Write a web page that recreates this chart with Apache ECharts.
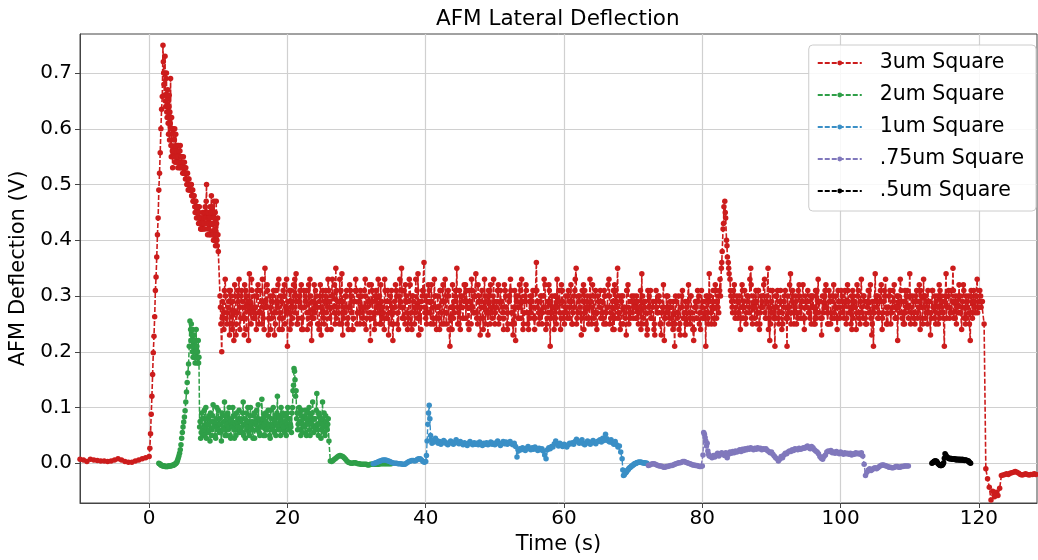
<!DOCTYPE html>
<html>
<head>
<meta charset="utf-8">
<script src="https://cdn.jsdelivr.net/npm/echarts@6/dist/echarts.min.js"></script>
<style>
html,body{margin:0;padding:0;background:#fff;}
#chart{width:1038px;height:560px;}
</style>
</head>
<body>
<div id="chart"></div>
<script>
// ---------------- DATA ----------------
const seriesNames = ['3um Square', '2um Square', '1um Square', '.75um Square', '.5um Square'];
const xTickLabels = [0, 20, 40, 60, 80, 100, 120];
const yTickLabels = [0.0, 0.1, 0.2, 0.3, 0.4, 0.5, 0.6, 0.7];

// 3um Square (red): segments given as start time, sample step, values
const redBaselineStart = -10, redBaselineStep = 0.5;
const redBaseline = [.007,.006,.003,.007,.006,.005,.004,.004,.003,.004,.006,.008,.006,.003,.002,.002,.004,.006,.008,.010];
const redRiseStart = 0.0, redRiseStep = 0.1;
const redRise = [.012,.027,.053,.088,.12,.159,.198,.228,.263,.31,.334,.37,.41,.44,.49,.52,.557,.60,.635,.658];
const redPeakStart = 2.0, redPeakStep = 0.1;
const redPeak = [.75,.70,.66,.73,.64,.70,.62,.67,.59,.66,
  .63,.69,.55,.60,.53,.59,.56,.60,.55,.57,
  .54,.57,.55,.56,.53,.57,.54,.55,.53,.54,
  .53,.54,.52,.53,.51,.52,.50,.51,.49,.50,
  .49,.50,.48,.49,.47,.48,.46,.47,.46,.45,
  .46,.44,.45,.43,.44,.42,.43,.44,.42,.45,
  .43,.46,.44,.50,.45,.42,.44,.41,.46,.43,
  .48,.41,.45,.40,.47,.42,.39,.47,.40,.44,
  .38];
const redPeakBStart = 2.05, redPeakBStep = 0.1;
const redPeakB = [.72,.68,.70,.65,.69,.63,.66,.61,.64,.58,
  .61,.57,.62,.56,.60,.55,.58,.54,.59,.55,
  .56,.53,.57,.54,.56,.53,.55,.54,.52,.55,
  .52,.53,.51,.52,.50,.52,.49,.51,.50,.49,
  .50,.48,.49,.47,.48,.47,.45,.47,.44,.46,
  .45,.43,.46,.44,.42,.44,.42,.45,.43,.44,
  .42,.45,.47,.43,.41,.45,.43,.44,.41,.45,
  .43,.46,.41,.44,.40,.45,.41,.43,.39,.41];
const redPlateauStart = 10.25, redPlateauStep = 0.25;
const redPlateau = [
  .30,.20,.27,.33,.25,.29,.31,.24,.22,.30,.27,.33,.26,.29,.23,.31,.28,.34,.25,.27,
  .30,.24,.32,.27,.29,.26,.35,.28,.23,.30,.26,.31,.25,.29,.33,.27,.24,.30,.28,.21,
  .27,.31,.26,.30,.34,.25,.29,.32,.24,.28,.31,.26,.33,.22,.29,.27,.30,.25,.32,.28,
  .26,.30,.24,.31,.28,.33,.27,.35,.29,.25,.31,.23,.28,.30,.26,.32,.27,.24,.29,.31,
  .27,.25,.30,.28,.33,.26,.29,.22,.31,.27,.25,.30,.28,.32,.26,.24,.29,.31,.27,.25,
  .22,.29,.31,.27,.33,.35,.28,.25,.30,.26,.32,.24,.29,.27,.31,.23,.28,.30,.36,.26,
  .29,.31,.25,.28,.33,.26,.30,.24,.27,.32,.29,.25,.31,.21,.28,.26,.30,.35,.27,.24,
  .30,.26,.32,.28,.24,.29,.31,.27,.34,.25,.30,.28,.26,.33,.29,.23,.31,.27,.30,.25,
  .28,.32,.26,.29,.24,.31,.27,.30,.33,.25,.28,.22,.30,.26,.31,.29,.27,.32,.25,.29,
  .27,.31,.24,.36,.29,.26,.30,.28,.32,.25,.27,.21,.30,.28,.26,.33,.29,.24,.31,.27,
  .30,.26,.29,.32,.25,.28,.35,.27,.30,.23,.29,.31,.26,.28,.33,.25,.30,.27,.24,.29,
  .31,.27,.25,.30,.28,.33,.26,.29,.24,.31,.35,.27,.25,.30,.28,.23,.32,.27,.29,.26,
  .28,.30,.25,.27,.34,.26,.29,.23,.28,.31,.26,.24,.29,.27,.30,.25,.28,.22,.27,.30,
  .26,.28,.24,.21,.29,.27,.25,.30,.26,.23,.28,.32,.25,.27,.22,.29,.26,.30,.24,.28,
  .26,.21,.30,.34,.27,.29,.25,.31,.28,.31,.35,.42,.47,.40,.36,.33,.29,.31,.26,.30,
  .27,.24,.32,.29,.26,.30,.28,.35,.25,.29,.31,.27,.24,.30,.28,.33,.26,.35,.22,.29,
  .27,.21,.30,.26,.29,.24,.28,.31,.21,.27,.34,.29,.25,.30,.27,.32,.26,.29,.24,.28,
  .31,.27,.25,.30,.28,.26,.33,.29,.23,.27,.31,.28,.25,.30,.26,.32,.28,.24,.29,.27,
  .30,.26,.29,.32,.27,.25,.31,.28,.24,.30,.27,.33,.26,.29,.25,.31,.27,.23,.21,.34,
  .28,.26,.31,.24,.29,.33,.27,.30,.25,.28,.32,.26,.22,.29,.31,.27,.25,.30,.28,.34,
  .27,.29,.25,.31,.28,.24,.30,.33,.26,.29,.27,.23,.31,.28,.25,.30,.32,.27,.29,.21,
  .34,.28,.26,.31,.35,.29,.25,.30,.27,.24,.32,.28,.26,.30,.22,.29,.31,.27,.33,.28,.30,.29];
const redPlateauBStart = 10.375, redPlateauBStep = 0.25;
const redPlateauB = [
  .25,.29,.31,.26,.28,.23,.30,.27,.32,.25,.29,.24,.31,.28,.26,.30,.22,.29,.31,.26,
  .28,.31,.25,.27,.33,.24,.29,.31,.26,.28,.30,.23,.27,.32,.26,.29,.31,.25,.33,.27,
  .24,.29,.32,.27,.25,.30,.28,.26,.31,.29,.24,.27,.30,.26,.32,.28,.25,.29,.23,.31,
  .29,.27,.33,.26,.30,.28,.25,.31,.27,.29,.34,.26,.30,.25,.28,.31,.24,.29,.33,.27,
  .30,.28,.26,.31,.24,.29,.27,.32,.26,.30,.28,.33,.25,.29,.27,.31,.26,.23,.30,.28,
  .27,.32,.25,.30,.28,.26,.31,.29,.24,.33,.27,.30,.25,.28,.34,.26,.29,.31,.27,.25,
  .32,.27,.29,.25,.30,.28,.26,.31,.29,.25,.27,.30,.24,.28,.32,.27,.29,.25,.31,.28,
  .26,.29,.31,.25,.28,.33,.27,.30,.26,.29,.23,.31,.28,.25,.30,.27,.32,.26,.29,.28,
  .31,.26,.29,.27,.32,.28,.25,.30,.27,.23,.31,.29,.26,.28,.33,.25,.30,.27,.24,.30,
  .29,.26,.31,.28,.25,.30,.27,.33,.24,.29,.31,.26,.28,.30,.25,.29,.27,.32,.26,.28,
  .27,.31,.28,.25,.30,.33,.26,.29,.27,.31,.24,.28,.30,.26,.29,.32,.27,.25,.30,.28,
  .29,.26,.30,.27,.32,.25,.28,.31,.26,.29,.27,.24,.30,.28,.26,.31,.25,.29,.27,.30,
  .26,.29,.27,.24,.30,.28,.25,.31,.27,.26,.29,.23,.28,.30,.25,.27,.32,.26,.28,.25,
  .29,.25,.27,.30,.26,.24,.28,.31,.27,.25,.29,.26,.30,.24,.28,.26,.29,.27,.31,.26,
  .29,.27,.25,.30,.28,.26,.32,.29,.27,.30,.38,.46,.44,.37,.34,.30,.27,.32,.28,.26,
  .30,.28,.26,.31,.27,.29,.33,.26,.30,.28,.25,.31,.27,.29,.32,.26,.30,.28,.25,.31,
  .28,.26,.31,.27,.29,.25,.30,.28,.26,.32,.27,.30,.28,.25,.31,.27,.29,.26,.30,.28,
  .27,.30,.28,.25,.31,.27,.29,.26,.30,.28,.32,.25,.29,.27,.30,.26,.28,.31,.26,.29,
  .28,.31,.26,.29,.27,.24,.30,.28,.32,.26,.29,.27,.30,.25,.28,.31,.26,.29,.27,.30,
  .26,.29,.32,.27,.30,.25,.28,.31,.27,.29,.26,.30,.28,.33,.26,.29,.27,.31,.28,.25,
  .30,.27,.29,.26,.32,.28,.25,.30,.27,.31,.29,.26,.28,.30,.27,.25,.31,.28,.26,.30,
  .28,.31,.27,.29,.26,.30,.28,.32,.27,.29,.26,.30,.28,.25,.31,.27,.29,.30,.28,.31,.29];
const redPlateauCStart = 10.3125, redPlateauCStep = 0.25;
const redPlateauC = [
  .28,.26,.24,.30,.27,.31,.25,.29,.27,.23,.31,.28,.30,.26,.32,.24,.29,.27,.33,.28,
  .26,.30,.27,.31,.25,.29,.28,.32,.26,.24,.29,.27,.31,.28,.24,.30,.26,.32,.27,.29,
  .31,.25,.28,.33,.29,.26,.31,.24,.28,.30,.27,.32,.25,.29,.26,.31,.28,.24,.30,.27,
  .25,.31,.28,.29,.24,.30,.32,.26,.28,.33,.25,.29,.27,.31,.24,.28,.30,.26,.31,.25,
  .29,.31,.27,.25,.30,.28,.32,.26,.29,.24,.31,.27,.30,.25,.28,.33,.26,.29,.27,.31,
  .25,.28,.30,.24,.29,.31,.26,.32,.27,.29,.25,.30,.28,.33,.26,.29,.24,.31,.28,.30,
  .27,.29,.32,.26,.30,.24,.28,.31,.25,.29,.33,.27,.30,.26,.24,.29,.31,.28,.25,.30,
  .28,.32,.26,.29,.31,.25,.28,.30,.27,.32,.26,.29,.24,.30,.27,.31,.25,.28,.33,.27,
  .29,.25,.31,.28,.26,.30,.24,.29,.31,.27,.25,.30,.28,.32,.26,.24,.29,.31,.27,.26,
  .30,.28,.26,.31,.27,.29,.25,.30,.28,.26,.32,.29,.27,.24,.30,.28,.31,.26,.29,.25,
  .28,.30,.26,.29,.27,.31,.25,.30,.28,.26,.32,.27,.29,.25,.30,.28,.26,.31,.27,.29,
  .26,.29,.31,.25,.28,.30,.27,.24,.32,.28,.26,.30,.29,.25,.27,.31,.28,.26,.30,.28,
  .29,.26,.28,.31,.25,.29,.27,.24,.30,.26,.28,.25,.31,.27,.29,.23,.28,.26,.30,.27,
  .28,.26,.29,.25,.27,.30,.23,.28,.26,.29,.25,.27,.30,.26,.24,.28,.31,.25,.27,.29,
  .27,.30,.26,.29,.25,.31,.28,.26,.30,.33,.36,.43,.45,.39,.35,.31,.28,.30,.27,.29,
  .29,.26,.31,.28,.25,.30,.27,.32,.28,.26,.29,.31,.25,.28,.30,.27,.29,.24,.31,.27,
  .26,.30,.28,.25,.31,.27,.29,.26,.30,.28,.25,.31,.27,.29,.26,.30,.28,.32,.26,.29,
  .29,.26,.30,.28,.25,.31,.27,.29,.26,.30,.28,.27,.31,.25,.29,.27,.30,.26,.28,.31,
  .27,.29,.25,.31,.28,.30,.26,.29,.27,.31,.25,.28,.30,.26,.29,.27,.32,.25,.28,.29,
  .30,.27,.29,.26,.31,.28,.25,.30,.27,.31,.28,.26,.30,.27,.29,.25,.31,.28,.26,.30,
  .28,.26,.30,.27,.29,.31,.26,.28,.30,.25,.29,.27,.31,.26,.29,.28,.26,.30,.27,.29,
  .26,.30,.28,.27,.31,.26,.29,.27,.30,.28,.31,.25,.29,.27,.30,.26,.28,.30,.27,.29,.28];
const redTailStart = 120.75, redTailStep = 0.25;
const redTail = [.25,-.01,-.028,-.043,-.066,-.05,-.06,-.052,-.058,-.045,-.022,-.021,-.02,-.019,-.02,-.018,
  -.017,-.016,-.015,-.016,-.018,-.02,-.021,-.02,-.019,-.02,-.021,-.02,-.02,-.019,-.02,-.02];

// 2um Square (green)
const greenRiseStart = 1.4, greenRiseStep = 0.1;
const greenRise = [.000,-.001,-.002,-.003,-.004,-.004,-.005,-.005,-.005,-.006,-.006,-.006,-.006,-.006,-.005,-.005,
  -.005,-.005,-.004,-.004,-.004,-.003,-.003,-.002,-.001,.000,
  .002,.005,.009,.013,.018,.024,.033,.045,.055,.065,.074,.083,.094,.11,.128,.145,.162,.178,.21,.255];
const greenClusterStart = 6.0, greenClusterStep = 0.05;
const greenCluster = [.24,.22,.25,.21,.23,.20,.24,.19,.22,.20,.23,.19,.21,.18,.22,.20,.24,.19,.21,.18,.20,.19,.22,.18,.19];
const greenNoiseStart = 7.3, greenNoiseStep = 0.15;
const greenNoise = [
  .065,.045,.09,.06,.08,.05,.10,.07,.055,.085,.04,.075,.06,.105,.07,.05,.08,.065,.095,.055,
  .07,.04,.085,.06,.11,.075,.05,.09,.065,.08,.045,.07,.10,.06,.085,.05,.075,.065,.095,.06,
  .08,.055,.11,.07,.045,.09,.065,.075,.05,.10,.07,.06,.085,.045,.075,.095,.06,.08,.05,.07,
  .115,.065,.085,.05,.075,.06,.095,.07,.045,.08,.065,.10,.055,.085,.07,.12,.06,.08,.05,.075,
  .09,.065,.055,.085,.07,.10,.06,.08,.065,.09,.13,.17,.15,.13,.09,.07,.10,.06,.085,.055,
  .08,.065,.095,.05,.075,.09,.06,.085,.07,.11,.055,.08,.065,.125,.06,.09,.07,.045,.08,.065,
  .09,.05,.075,.06,.08];
const greenNoiseBStart = 7.375, greenNoiseBStep = 0.15;
const greenNoiseB = [
  .075,.055,.08,.05,.095,.065,.045,.08,.07,.06,.09,.05,.085,.065,.075,.045,.10,.06,.07,.08,
  .055,.09,.065,.075,.05,.085,.07,.06,.10,.05,.075,.065,.085,.045,.07,.09,.06,.08,.055,.075,
  .065,.09,.05,.08,.07,.06,.10,.055,.085,.065,.075,.045,.09,.07,.06,.08,.105,.055,.075,.065,
  .08,.05,.07,.09,.06,.085,.065,.05,.095,.07,.06,.08,.075,.05,.09,.065,.085,.06,.10,.07,
  .06,.085,.075,.05,.09,.065,.08,.07,.055,.10,.14,.165,.12,.08,.06,.09,.075,.05,.095,.07,
  .065,.085,.055,.08,.07,.10,.05,.075,.09,.065,.08,.06,.095,.07,.05,.085,.075,.06,.11,.07,
  .055,.085,.065,.07];
const greenTailStart = 26.0, greenTailStep = 0.2;
const greenTail = [.04,.004,.003,.005,.007,.009,.011,.013,.014,.013,.012,.010,.007,.004,.002,.001,.000,.000,.001,.001,
  .000,-.001,-.001,-.002,-.002,-.002,-.002,-.002,-.003,-.003,-.002,-.002,-.002,-.002,-.002,-.002,-.002,-.001,-.001,-.001,
  -.001,-.001,-.001,-.001,-.001,-.001];

// 1um Square (blue)
const blueStartT = 32.4, blueStartStep = 0.2;
const blueStart = [-.001,.000,.001,.002,.003,.004,.005,.006,.006,.006,.005,.004,.003,.002,.001,.000,.000,.000,-.001,-.001,
  -.001,-.002,-.002,-.002,.000,.002,.003,.004,.005,.005,.004,.005,.007,.008,.008,.006,.003,.002,.003];
const blueSpikeStart = 40.1, blueSpikeStep = 0.1;
const blueSpike = [.014,.04,.07,.09,.104,.08,.05,.042,.036,.04];
const blueMainStart = 41.2, blueMainStep = 0.2;
const blueMain = [
  .038,.045,.041,.036,.039,.034,.037,.041,.038,.035,.033,.037,.04,.036,.034,.038,.042,.037,.035,.039,
  .036,.033,.037,.035,.032,.036,.039,.035,.033,.037,.034,.036,.033,.038,.035,.032,.036,.034,.037,.033,
  .035,.038,.034,.036,.033,.037,.04,.035,.032,.036,.039,.035,.038,.034,.036,.039,.035,.033,.036,.03,
  .011,.022,.026,.024,.028,.025,.023,.027,.03,.026,.024,.028,.025,.029,.026,.023,.027,.024,.026,.022,
  .015,.008,.024,.028,.026,.03,.029,.035,.04,.034,.031,.036,.033,.03,.034,.032,.029,.033,.036,.035,
  .037,.034,.039,.043,.04,.036,.038,.042,.035,.033,.037,.04,.036,.034,.038,.041,.037,.035,.039,.04,
  .042,.038,.045,.041,.052,.044,.04,.038,.042,.037,.034,.039,.033,.029,.031,.02,.008];
const blueRecoveryStart = 68.5, blueRecoveryStep = 0.1;
const blueRecovery = [-.012,-.022,-.021,-.019,-.017,-.016,-.014,-.012,-.011,-.009,-.008,-.007,-.006,-.005,-.004,-.003,-.002,-.001,-.001,.000,
  .001,.001,.002,.002,.002,.002,.002,.002,.001,.001,.001,.001,.000,.000,.000,.000];

// .75um Square (purple)
const purpleStartT = 72.2, purpleStartStep = 0.2;
const purpleStart = [-.004,-.003,-.002,-.001,-.001,-.002,-.003,-.004,-.005,-.005,-.006,-.007,-.007,-.006,-.006,-.005,-.004,-.004,-.003,-.002,
  -.001,.000,.001,.001,.002,.003,.003,.002,.001,.000,-.001,-.002,-.003,-.003,-.004,-.004,-.005,-.006,-.006,-.005];
const purpleSpikeStart = 80.1, purpleSpikeStep = 0.1;
const purpleSpike = [.015,.055,.052,.046,.04,.031,.036,.022,.016,.013];
const purpleMainStart = 81.2, purpleMainStep = 0.2;
const purpleMain = [
  .012,.01,.014,.011,.015,.018,.013,.016,.019,.017,.014,.019,.01,.016,.02,.018,.021,.019,.022,.02,
  .022,.024,.021,.025,.023,.026,.024,.027,.025,.028,.026,.024,.027,.025,.028,.026,.027,.024,.026,.025,
  .026,.023,.021,.019,.02,.016,.013,.01,.008,.004,.007,.012,.01,.015,.018,.017,.02,.022,.021,.024,
  .023,.026,.025,.024,.027,.025,.026,.028,.027,.029,.031,.028,.026,.03,.028,.024,.022,.02,.017,.012,
  .009,.007,.012,.015,.02,.022,.021,.023,.019,.02,.018,.021,.019,.017,.02,.018,.016,.019,.017,.018,
  .016,.018,.015,.017,.016,.019,.017,.018,.016,.019,.013];
const purpleEndStart = 103.4, purpleEndStep = 0.2;
const purpleEnd = [-.002,-.022,-.016,-.012,-.01,-.013,-.011,-.009,-.008,-.01,-.008,-.006,-.004,-.003,-.003,-.004,-.005,-.006,-.007,-.007,
  -.008,-.008,-.007,-.006,-.006,-.007,-.007,-.006,-.006,-.005,-.005,-.005,-.005];

// .5um Square (black)
const blackStart = 113.2, blackStep = 0.1;
const blackVals = [.000,.001,.002,.003,.004,.004,.004,.003,.001,-.001,-.002,-.003,-.004,-.004,-.004,-.003,-.002,.001,.009,.017,
  .015,.012,.011,.01,.009,.008,.008,.009,.008,.007,.008,.007,.007,.008,.007,.006,.007,.007,.006,.007,
  .006,.007,.006,.006,.007,.006,.006,.005,.006,.006,.005,.005,.004,.004,.002,.001,.000];

// ---------------- BUILD ----------------
function seg(start, step, vals) {
  return vals.map((v, i) => [+(start + i * step).toFixed(4), v]);
}
const byTime = (a, b) => a[0] - b[0];
const redData = [].concat(
  seg(redBaselineStart, redBaselineStep, redBaseline),
  seg(redRiseStart, redRiseStep, redRise),
  seg(redPeakStart, redPeakStep, redPeak),
  seg(redPeakBStart, redPeakBStep, redPeakB),
  seg(redPlateauStart, redPlateauStep, redPlateau),
  seg(redPlateauBStart, redPlateauBStep, redPlateauB),
  seg(redPlateauCStart, redPlateauCStep, redPlateauC),
  seg(redTailStart, redTailStep, redTail)).sort(byTime);
const greenData = [].concat(
  seg(greenRiseStart, greenRiseStep, greenRise),
  seg(greenClusterStart, greenClusterStep, greenCluster),
  seg(greenNoiseStart, greenNoiseStep, greenNoise),
  seg(greenNoiseBStart, greenNoiseBStep, greenNoiseB),
  seg(greenTailStart, greenTailStep, greenTail)).sort(byTime);
const blueData = [].concat(
  seg(blueStartT, blueStartStep, blueStart),
  seg(blueSpikeStart, blueSpikeStep, blueSpike),
  seg(blueMainStart, blueMainStep, blueMain),
  seg(blueRecoveryStart, blueRecoveryStep, blueRecovery));
const purpleData = [].concat(
  seg(purpleStartT, purpleStartStep, purpleStart),
  seg(purpleSpikeStart, purpleSpikeStep, purpleSpike),
  seg(purpleMainStart, purpleMainStep, purpleMain),
  seg(purpleEndStart, purpleEndStep, purpleEnd));
const blackData = seg(blackStart, blackStep, blackVals);

const colors = ['#cc1c1c', '#2f9f48', '#3a8fc6', '#8078bc', '#000000'];
const allData = [redData, greenData, blueData, purpleData, blackData];
const lineWidths = [1.6, 1.5, 1.4, 1.4, 1.4];
const FONT = 'DejaVu Sans';

const chart = echarts.init(document.getElementById('chart'), null, {renderer: 'canvas'});
chart.setOption({
  animation: false,
  backgroundColor: '#ffffff',
  title: {
    text: 'AFM Lateral Deflection',
    left: 436, top: 8, padding: 0,
    textStyle: {fontFamily: FONT, fontSize: 21.5, fontWeight: 'normal', color: '#000'}
  },
  grid: {
    left: 80, right: 1, top: 34, bottom: 54,
    show: true, borderColor: '#444', borderWidth: 1, backgroundColor: 'transparent'
  },
  legend: {
    data: seriesNames,
    orient: 'vertical',
    right: 2, top: 45,
    padding: [6, 12, 8, 8],
    itemWidth: 44, itemHeight: 6, itemGap: 8,
    backgroundColor: 'rgba(255,255,255,0.85)',
    borderColor: '#cccccc', borderWidth: 1, borderRadius: 4,
    textStyle: {fontFamily: FONT, fontSize: 20.5, color: '#000', lineHeight: 24, padding: [0, 0, 0, 13]}
  },
  xAxis: {
    type: 'value', min: -10, max: 128.4,
    minInterval: 20, maxInterval: 20,
    name: 'Time (s)', nameLocation: 'middle', nameGap: 31,
    nameTextStyle: {fontFamily: FONT, fontSize: 21, color: '#000'},
    axisLine: {show: true, onZero: false, lineStyle: {color: '#444', width: 1}},
    axisTick: {show: true, length: 5, lineStyle: {color: '#444'}, customValues: xTickLabels},
    axisLabel: {fontFamily: FONT, fontSize: 20, color: '#000', margin: 6, customValues: xTickLabels,
      formatter: v => String(v)},
    splitLine: {show: true, lineStyle: {color: '#d0d0d0', width: 1.2}}
  },
  yAxis: {
    type: 'value', min: -0.0713, max: 0.770,
    minInterval: 0.1, maxInterval: 0.1,
    name: 'AFM Deflection (V)', nameLocation: 'middle', nameGap: 38,
    nameTextStyle: {fontFamily: FONT, fontSize: 21, color: '#000'},
    axisLine: {show: true, onZero: false, lineStyle: {color: '#444', width: 1}},
    axisTick: {show: true, length: 5, lineStyle: {color: '#444'}, customValues: yTickLabels},
    axisLabel: {fontFamily: FONT, fontSize: 20, color: '#000', margin: 8, customValues: yTickLabels,
      formatter: v => v.toFixed(1)},
    splitLine: {show: true, lineStyle: {color: '#d0d0d0', width: 1.2}}
  },
  series: seriesNames.map((name, k) => ({
    name: name,
    type: 'line',
    data: allData[k],
    color: colors[k],
    showSymbol: true,
    symbol: 'circle',
    symbolSize: 5.5,
    lineStyle: {type: [5, 2], width: lineWidths[k], color: colors[k]},
    itemStyle: {color: colors[k]},
    emphasis: {disabled: true},
    silent: true
  }))
});
</script>
</body>
</html>
